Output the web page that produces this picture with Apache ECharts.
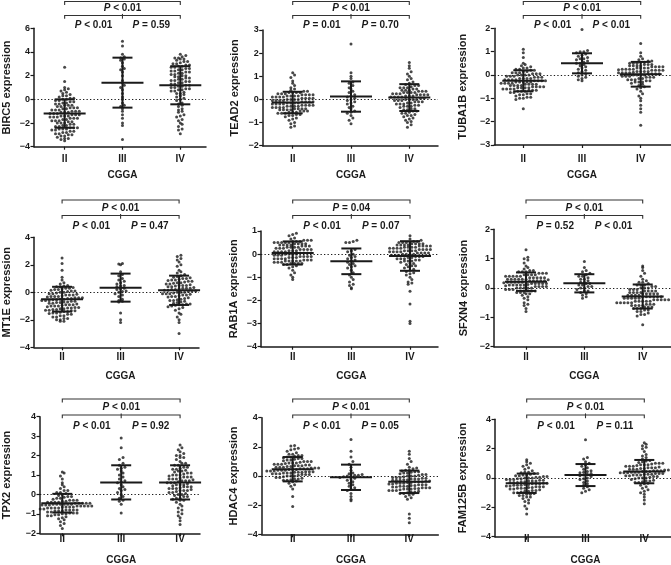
<!DOCTYPE html>
<html><head><meta charset="utf-8">
<script src="https://cdn.jsdelivr.net/npm/echarts@6/dist/echarts.min.js"></script>
<style>html,body{margin:0;padding:0;background:#fff}#c{width:671px;height:565px}</style>
</head><body><div id="c"></div>
<script>
// ---------------- DATA ----------------
const categories = ['II', 'III', 'IV'];
const cohort = 'CGGA';
const genes = ['BIRC5', 'TEAD2', 'TUBA1B', 'MT1E', 'RAB1A', 'SFXN4', 'TPX2', 'HDAC4', 'FAM125B'];

const yMins  = [-4, -2, -3, -4, -4, -2, -2, -4, -4];
const yMaxs  = [ 6,  3,  2,  4,  1,  2,  4,  4,  4];
const ySteps = [ 2,  1,  1,  2,  1,  1,  1,  2,  2];

const pTop   = ['< 0.01', '< 0.01', '< 0.01', '< 0.01', '= 0.04', '< 0.01', '< 0.01', '< 0.01', '< 0.01'];
const pLeft  = ['< 0.01', '= 0.01', '< 0.01', '< 0.01', '< 0.01', '= 0.52', '< 0.01', '< 0.01', '< 0.01'];
const pRight = ['= 0.59', '= 0.70', '< 0.01', '= 0.47', '= 0.07', '< 0.01', '= 0.92', '= 0.05', '= 0.11'];

// mean and SD per group (II, III, IV)
const BIRC5_mean = [-1.2, 1.41, 1.19],   BIRC5_sd = [1.2, 2.11, 1.61];
const TEAD2_mean = [-0.135, 0.125, 0.08], TEAD2_sd = [0.465, 0.655, 0.58];
const TUBA1B_mean = [-0.25, 0.5, 0.03],  TUBA1B_sd = [0.45, 0.43, 0.53];
const MT1E_mean = [-0.5, 0.34, 0.145],   MT1E_sd = [0.9, 1.02, 1.065];
const RAB1A_mean = [0.05, -0.31, -0.08], RAB1A_sd = [0.5, 0.555, 0.64];
const SFXN4_mean = [0.215, 0.16, -0.29], SFXN4_sd = [0.315, 0.31, 0.41];
const TPX2_mean = [-0.45, 0.62, 0.62],   TPX2_sd = [0.48, 0.88, 0.88];
const HDAC4_mean = [0.465, -0.09, -0.4], HDAC4_sd = [0.835, 0.87, 0.77];
const FAM125B_mean = [-0.36, 0.2, 0.435], FAM125B_sd = [0.66, 0.75, 0.795];

// individual sample values
const BIRC5_II = [-3.5,-3.4,-3.3,-3.3,-3.2,-3.1,-3.1,-3.0,-3.0,-2.9,-2.9,-2.8,-2.8,-2.7,-2.7,-2.6,-2.6,-2.5,-2.5,-2.5,-2.4,-2.4,-2.4,-2.3,-2.3,-2.2,-2.2,-2.1,-2.1,-2.0,-2.0,-2.0,-1.9,-1.9,-1.8,-1.8,-1.8,-1.7,-1.7,-1.6,-1.6,-1.6,-1.5,-1.5,-1.5,-1.4,-1.4,-1.4,-1.3,-1.3,-1.3,-1.2,-1.2,-1.2,-1.1,-1.1,-1.1,-1.0,-1.0,-1.0,-0.9,-0.9,-0.9,-0.8,-0.8,-0.7,-0.7,-0.7,-0.6,-0.6,-0.5,-0.5,-0.5,-0.4,-0.4,-0.3,-0.3,-0.2,-0.2,-0.1,-0.1,0.0,0.0,0.1,0.1,0.2,0.3,0.3,0.4,0.5,0.6,0.7,0.8,0.9,1.0,1.5,2.7];
const BIRC5_III = [4.9,4.5,3.8,3.6,3.5,3.4,3.3,3.1,2.8,2.6,2.5,2.3,2.0,1.6,1.4,1.2,1.0,0.8,0.5,0.2,0.0,-0.3,-0.5,-0.6,-0.8,-1.0,-1.3,-1.6,-2.0,-2.2,-3.4];
const BIRC5_IV = [3.8,3.7,3.6,3.5,3.5,3.4,3.4,3.3,3.2,3.2,3.1,3.0,3.0,2.9,2.9,2.8,2.8,2.7,2.7,2.6,2.6,2.5,2.5,2.4,2.4,2.3,2.3,2.2,2.2,2.1,2.1,2.0,2.0,1.9,1.9,1.8,1.8,1.7,1.7,1.6,1.6,1.5,1.5,1.4,1.4,1.3,1.3,1.2,1.2,1.1,1.1,1.0,1.0,0.9,0.9,0.8,0.8,0.7,0.7,0.6,0.5,0.5,0.4,0.3,0.2,0.1,0.0,-0.1,-0.3,-0.4,-0.5,-0.6,-0.8,-0.9,-1.0,-1.1,-1.3,-1.4,-1.5,-1.7,-1.8,-2.0,-2.1,-2.3,-2.5,-2.6,-2.9];

const TEAD2_II = [1.15,1.05,0.95,0.8,0.7,0.6,0.5,0.45,0.4,0.35,0.35,0.3,0.3,0.3,0.3,0.25,0.25,0.25,0.2,0.2,0.2,0.2,0.15,0.15,0.15,0.15,0.1,0.1,0.1,0.1,0.05,0.05,0.05,0.05,0.0,0.0,0.0,0.0,-0.05,-0.05,-0.05,-0.05,-0.1,-0.1,-0.1,-0.1,-0.15,-0.15,-0.15,-0.15,-0.2,-0.2,-0.2,-0.2,-0.25,-0.25,-0.25,-0.25,-0.3,-0.3,-0.3,-0.3,-0.35,-0.35,-0.35,-0.35,-0.4,-0.4,-0.4,-0.4,-0.45,-0.45,-0.45,-0.45,-0.5,-0.5,-0.5,-0.55,-0.55,-0.55,-0.6,-0.6,-0.6,-0.65,-0.65,-0.7,-0.7,-0.75,-0.8,-0.85,-0.9,-1.0,-1.05,-1.15,-1.2];
const TEAD2_III = [2.4,1.15,1.0,0.9,0.75,0.7,0.6,0.5,0.45,0.35,0.3,0.2,0.15,0.1,0.05,0.0,-0.05,-0.1,-0.15,-0.2,-0.3,-0.35,-0.4,-0.5,-0.55,-0.6,-0.7,-0.8,-0.9,-1.05];
const TEAD2_IV = [1.6,1.45,1.35,1.2,1.1,1.0,0.9,0.85,0.75,0.7,0.65,0.6,0.6,0.55,0.5,0.5,0.5,0.45,0.45,0.4,0.4,0.4,0.35,0.35,0.35,0.3,0.3,0.3,0.3,0.25,0.25,0.25,0.2,0.2,0.2,0.2,0.15,0.15,0.15,0.1,0.1,0.1,0.1,0.05,0.05,0.0,0.0,0.0,0.0,-0.05,-0.05,-0.05,-0.1,-0.1,-0.1,-0.15,-0.15,-0.2,-0.2,-0.2,-0.25,-0.25,-0.3,-0.3,-0.3,-0.35,-0.4,-0.4,-0.45,-0.45,-0.5,-0.5,-0.55,-0.6,-0.6,-0.65,-0.7,-0.7,-0.75,-0.8,-0.85,-0.9,-0.95,-1.0,-1.1,-1.2];

const TUBA1B_II = [1.1,0.95,0.75,0.5,0.45,0.4,0.35,0.3,0.3,0.25,0.25,0.2,0.2,0.15,0.15,0.1,0.1,0.1,0.05,0.05,0.05,0.0,0.0,0.0,0.0,-0.05,-0.05,-0.05,-0.1,-0.1,-0.1,-0.15,-0.15,-0.15,-0.15,-0.2,-0.2,-0.2,-0.2,-0.25,-0.25,-0.25,-0.25,-0.3,-0.3,-0.3,-0.3,-0.3,-0.35,-0.35,-0.35,-0.35,-0.4,-0.4,-0.4,-0.4,-0.45,-0.45,-0.45,-0.45,-0.5,-0.5,-0.5,-0.5,-0.55,-0.55,-0.55,-0.55,-0.6,-0.6,-0.6,-0.6,-0.65,-0.65,-0.65,-0.7,-0.7,-0.7,-0.75,-0.75,-0.8,-0.8,-0.85,-0.85,-0.9,-0.95,-0.95,-1.0,-1.0,-1.05,-1.45];
const TUBA1B_III = [1.95,1.05,1.0,1.0,0.95,0.9,0.85,0.8,0.75,0.7,0.7,0.65,0.6,0.55,0.5,0.5,0.45,0.4,0.35,0.3,0.25,0.2,0.15,0.1,0.05,0.0,-0.05,-0.1,-0.15,-0.2,-0.25];
const TUBA1B_IV = [1.35,0.95,0.8,0.7,0.65,0.6,0.6,0.55,0.55,0.5,0.5,0.5,0.45,0.45,0.45,0.4,0.4,0.4,0.4,0.35,0.35,0.35,0.35,0.3,0.3,0.3,0.3,0.25,0.25,0.25,0.25,0.22,0.2,0.2,0.2,0.2,0.15,0.15,0.15,0.15,0.12,0.1,0.1,0.1,0.1,0.05,0.05,0.05,0.05,0.0,0.0,0.0,0.0,-0.05,-0.05,-0.05,-0.1,-0.1,-0.1,-0.15,-0.15,-0.2,-0.2,-0.2,-0.25,-0.25,-0.3,-0.3,-0.3,-0.35,-0.4,-0.45,-0.5,-0.55,-0.6,-0.7,-0.8,-0.9,-1.0,-1.1,-1.3,-1.45,-1.6,-2.15];

const MT1E_II = [2.5,2.1,1.6,1.1,0.9,0.7,0.6,0.5,0.45,0.4,0.4,0.35,0.3,0.3,0.25,0.2,0.2,0.15,0.1,0.1,0.05,0.0,0.0,-0.05,-0.1,-0.1,-0.15,-0.2,-0.2,-0.2,-0.25,-0.3,-0.3,-0.3,-0.35,-0.4,-0.4,-0.4,-0.45,-0.45,-0.5,-0.5,-0.55,-0.55,-0.6,-0.6,-0.6,-0.65,-0.65,-0.7,-0.7,-0.75,-0.75,-0.8,-0.8,-0.85,-0.9,-0.9,-0.9,-0.95,-1.0,-1.0,-1.0,-1.05,-1.1,-1.1,-1.15,-1.15,-1.2,-1.2,-1.25,-1.25,-1.3,-1.3,-1.35,-1.35,-1.4,-1.4,-1.45,-1.5,-1.5,-1.55,-1.6,-1.6,-1.7,-1.7,-1.8,-1.8,-1.9,-1.9,-2.0,-2.0,-2.1,-2.1];
const MT1E_III = [2.1,2.05,2.0,1.5,1.3,1.2,1.0,0.9,0.8,0.7,0.6,0.5,0.45,0.4,0.3,0.25,0.2,0.1,0.05,0.0,-0.1,-0.2,-0.3,-0.5,-0.6,-0.65,-0.7,-1.5,-2.0,-2.2];
const MT1E_IV = [2.7,2.6,2.45,2.35,2.2,2.0,1.9,1.6,1.5,1.4,1.3,1.2,1.15,1.1,1.05,1.0,1.0,0.95,0.9,0.9,0.85,0.8,0.8,0.75,0.7,0.7,0.65,0.6,0.6,0.55,0.5,0.5,0.5,0.45,0.4,0.4,0.35,0.3,0.3,0.3,0.25,0.2,0.2,0.15,0.15,0.1,0.1,0.05,0.0,0.0,0.0,-0.05,-0.1,-0.1,-0.1,-0.15,-0.2,-0.2,-0.25,-0.3,-0.3,-0.35,-0.4,-0.45,-0.5,-0.55,-0.6,-0.6,-0.65,-0.7,-0.75,-0.8,-0.85,-0.85,-0.9,-0.9,-0.95,-1.0,-1.05,-1.1,-1.2,-1.3,-1.5,-1.6,-1.8,-2.0,-2.2,-3.0];

const RAB1A_II = [0.9,0.85,0.8,0.7,0.65,0.6,0.6,0.6,0.55,0.55,0.55,0.5,0.5,0.5,0.5,0.5,0.45,0.45,0.45,0.45,0.4,0.4,0.4,0.4,0.35,0.35,0.35,0.3,0.3,0.3,0.3,0.25,0.25,0.25,0.2,0.2,0.2,0.2,0.15,0.15,0.15,0.1,0.1,0.1,0.1,0.05,0.05,0.05,0.05,0.0,0.0,0.0,0.0,-0.05,-0.05,-0.05,-0.1,-0.1,-0.1,-0.1,-0.15,-0.15,-0.15,-0.2,-0.2,-0.2,-0.2,-0.25,-0.25,-0.25,-0.3,-0.3,-0.3,-0.3,-0.3,-0.35,-0.35,-0.35,-0.4,-0.4,-0.4,-0.4,-0.45,-0.45,-0.5,-0.55,-0.6,-0.7,-0.8,-0.9,-1.0,-1.1];
const RAB1A_III = [0.6,0.55,0.5,0.5,0.2,0.15,0.1,0.0,-0.05,-0.1,-0.15,-0.2,-0.25,-0.3,-0.35,-0.4,-0.45,-0.5,-0.55,-0.6,-0.7,-0.8,-0.9,-1.0,-1.1,-1.2,-1.3,-1.35,-1.45,-1.5];
const RAB1A_IV = [0.8,0.65,0.6,0.55,0.55,0.5,0.5,0.5,0.5,0.45,0.45,0.45,0.45,0.4,0.4,0.4,0.4,0.35,0.35,0.35,0.35,0.3,0.3,0.3,0.3,0.25,0.25,0.25,0.25,0.2,0.2,0.2,0.2,0.15,0.15,0.15,0.15,0.1,0.1,0.1,0.1,0.05,0.05,0.05,0.05,0.0,0.0,0.0,0.0,-0.05,-0.05,-0.05,-0.1,-0.1,-0.1,-0.15,-0.15,-0.2,-0.2,-0.2,-0.25,-0.25,-0.3,-0.3,-0.3,-0.35,-0.4,-0.4,-0.45,-0.5,-0.5,-0.55,-0.6,-0.65,-0.7,-0.75,-0.8,-0.85,-0.9,-1.0,-1.1,-1.2,-1.25,-1.3,-1.6,-2.15,-2.9,-3.0];

const SFXN4_II = [1.3,1.05,1.0,0.95,0.85,0.75,0.7,0.65,0.6,0.6,0.55,0.55,0.55,0.5,0.5,0.5,0.45,0.45,0.45,0.45,0.4,0.4,0.4,0.4,0.4,0.35,0.35,0.35,0.35,0.35,0.3,0.3,0.3,0.3,0.3,0.3,0.28,0.25,0.25,0.25,0.25,0.25,0.22,0.2,0.2,0.2,0.2,0.2,0.18,0.15,0.15,0.15,0.15,0.15,0.12,0.1,0.1,0.1,0.1,0.1,0.08,0.05,0.05,0.05,0.05,0.0,0.0,0.0,0.0,0.0,-0.05,-0.05,-0.05,-0.1,-0.1,-0.1,-0.15,-0.15,-0.15,-0.2,-0.2,-0.25,-0.3,-0.35,-0.4,-0.5,-0.55,-0.6,-0.7,-0.8];
const SFXN4_III = [0.9,0.7,0.6,0.55,0.5,0.45,0.4,0.4,0.35,0.3,0.3,0.25,0.2,0.2,0.15,0.15,0.1,0.1,0.05,0.05,0.0,0.0,-0.05,-0.1,-0.1,-0.15,-0.2,-0.25,-0.3,-0.35];
const SFXN4_IV = [0.75,0.7,0.6,0.5,0.4,0.3,0.25,0.2,0.2,0.15,0.1,0.1,0.1,0.05,0.05,0.0,0.0,0.0,-0.05,-0.05,-0.05,-0.1,-0.1,-0.1,-0.1,-0.15,-0.15,-0.15,-0.15,-0.2,-0.2,-0.2,-0.2,-0.2,-0.25,-0.25,-0.25,-0.25,-0.3,-0.3,-0.3,-0.3,-0.3,-0.3,-0.35,-0.35,-0.35,-0.35,-0.35,-0.4,-0.4,-0.4,-0.4,-0.4,-0.45,-0.45,-0.45,-0.45,-0.45,-0.5,-0.5,-0.5,-0.5,-0.5,-0.55,-0.55,-0.55,-0.6,-0.6,-0.6,-0.6,-0.65,-0.65,-0.65,-0.7,-0.7,-0.7,-0.75,-0.75,-0.8,-0.8,-0.85,-0.9,-0.9,-0.95,-1.25];

const TPX2_II = [1.15,1.1,0.95,0.8,0.6,0.5,0.4,0.3,0.2,0.2,0.1,0.1,0.05,0.0,-0.05,-0.1,-0.1,-0.15,-0.2,-0.2,-0.25,-0.3,-0.3,-0.3,-0.35,-0.35,-0.4,-0.4,-0.4,-0.4,-0.45,-0.45,-0.45,-0.45,-0.45,-0.5,-0.5,-0.5,-0.5,-0.5,-0.5,-0.55,-0.55,-0.55,-0.55,-0.55,-0.6,-0.6,-0.6,-0.6,-0.6,-0.65,-0.65,-0.65,-0.65,-0.7,-0.7,-0.7,-0.7,-0.75,-0.75,-0.75,-0.75,-0.8,-0.8,-0.8,-0.8,-0.85,-0.85,-0.85,-0.9,-0.9,-0.95,-0.95,-0.95,-1.0,-1.0,-1.05,-1.05,-1.1,-1.1,-1.15,-1.2,-1.25,-1.3,-1.4,-1.5,-1.6,-1.75];
const TPX2_III = [2.9,2.4,1.9,1.8,1.6,1.5,1.4,1.35,1.3,1.2,1.1,1.0,0.9,0.8,0.7,0.65,0.6,0.5,0.4,0.3,0.25,0.2,0.1,0.0,-0.1,-0.2,-0.3,-0.35,-0.5,-0.95];
const TPX2_IV = [2.55,2.4,2.3,2.2,2.1,2.0,2.0,1.9,1.9,1.8,1.7,1.6,1.6,1.5,1.5,1.4,1.4,1.35,1.3,1.3,1.25,1.2,1.2,1.15,1.1,1.1,1.05,1.0,1.0,1.0,0.95,0.9,0.9,0.9,0.85,0.8,0.8,0.8,0.75,0.7,0.7,0.7,0.65,0.6,0.6,0.6,0.55,0.5,0.5,0.5,0.45,0.4,0.4,0.4,0.35,0.3,0.3,0.3,0.25,0.2,0.2,0.2,0.15,0.1,0.1,0.05,0.0,0.0,-0.05,-0.1,-0.1,-0.2,-0.2,-0.25,-0.3,-0.3,-0.4,-0.5,-0.6,-0.7,-0.8,-0.9,-1.0,-1.1,-1.2,-1.35,-1.55];

const HDAC4_II = [2.1,2.05,1.9,1.85,1.8,1.7,1.6,1.5,1.5,1.4,1.4,1.35,1.3,1.3,1.25,1.2,1.2,1.15,1.1,1.1,1.05,1.0,1.0,1.0,0.95,0.9,0.9,0.9,0.85,0.8,0.8,0.8,0.75,0.75,0.7,0.7,0.7,0.65,0.65,0.6,0.6,0.6,0.55,0.55,0.55,0.5,0.5,0.5,0.45,0.45,0.45,0.4,0.4,0.4,0.35,0.35,0.35,0.3,0.3,0.3,0.25,0.25,0.25,0.2,0.2,0.2,0.15,0.15,0.15,0.1,0.1,0.1,0.05,0.0,0.0,0.0,-0.05,-0.1,-0.1,-0.15,-0.2,-0.2,-0.25,-0.3,-0.3,-0.35,-0.4,-0.5,-0.6,-0.7,-0.9,-1.4,-2.1];
const HDAC4_III = [2.5,1.7,1.3,1.0,0.8,0.6,0.4,0.2,0.15,0.1,0.05,0.05,0.0,0.0,-0.05,-0.1,-0.15,-0.2,-0.3,-0.4,-0.5,-0.6,-0.7,-0.8,-0.9,-1.0,-1.2,-1.4,-1.6,-1.7];
const HDAC4_IV = [1.7,1.5,1.2,1.0,0.8,0.6,0.55,0.5,0.4,0.4,0.35,0.3,0.3,0.25,0.2,0.2,0.15,0.1,0.1,0.05,0.0,0.0,0.0,-0.05,-0.1,-0.1,-0.1,-0.15,-0.15,-0.2,-0.2,-0.2,-0.25,-0.25,-0.3,-0.3,-0.3,-0.35,-0.35,-0.4,-0.4,-0.4,-0.45,-0.45,-0.5,-0.5,-0.5,-0.55,-0.55,-0.6,-0.6,-0.6,-0.65,-0.65,-0.7,-0.7,-0.7,-0.75,-0.75,-0.8,-0.8,-0.8,-0.85,-0.85,-0.9,-0.9,-0.9,-0.95,-1.0,-1.0,-1.0,-1.05,-1.1,-1.1,-1.15,-1.2,-1.2,-1.25,-1.3,-1.4,-1.5,-1.6,-2.6,-2.9,-3.2];

const FAM125B_II = [1.25,1.1,1.0,0.9,0.8,0.7,0.6,0.5,0.4,0.4,0.35,0.3,0.3,0.25,0.2,0.2,0.15,0.15,0.1,0.1,0.05,0.05,0.0,0.0,0.0,-0.05,-0.05,-0.1,-0.1,-0.1,-0.15,-0.15,-0.2,-0.2,-0.2,-0.25,-0.25,-0.3,-0.3,-0.3,-0.35,-0.35,-0.4,-0.4,-0.4,-0.45,-0.45,-0.5,-0.5,-0.5,-0.55,-0.55,-0.6,-0.6,-0.6,-0.65,-0.65,-0.7,-0.7,-0.7,-0.75,-0.75,-0.8,-0.85,-0.85,-0.9,-0.9,-0.95,-1.0,-1.0,-1.05,-1.1,-1.1,-1.2,-1.2,-1.3,-1.3,-1.4,-1.5,-1.6,-1.7,-1.9,-2.1,-2.45];
const FAM125B_III = [2.6,1.4,1.3,1.1,1.0,0.9,0.8,0.7,0.6,0.5,0.45,0.4,0.35,0.3,0.25,0.2,0.15,0.1,0.0,-0.05,-0.1,-0.2,-0.3,-0.4,-0.5,-0.6,-0.7,-0.8,-0.9,-1.0];
const FAM125B_IV = [2.4,2.3,2.2,2.1,2.0,1.8,1.6,1.5,1.4,1.3,1.2,1.15,1.1,1.05,1.0,1.0,1.0,0.95,0.9,0.9,0.9,0.85,0.8,0.8,0.8,0.75,0.7,0.7,0.7,0.65,0.65,0.6,0.6,0.6,0.55,0.55,0.5,0.5,0.5,0.45,0.45,0.45,0.4,0.4,0.4,0.35,0.35,0.35,0.3,0.3,0.3,0.25,0.25,0.25,0.2,0.2,0.2,0.15,0.15,0.1,0.1,0.05,0.0,0.0,0.0,-0.05,-0.1,-0.15,-0.2,-0.2,-0.25,-0.3,-0.3,-0.35,-0.4,-0.5,-0.6,-0.7,-0.8,-0.9,-1.0,-1.1,-1.3,-1.5,-1.75];

const groupValues = [
  [BIRC5_II, BIRC5_III, BIRC5_IV],
  [TEAD2_II, TEAD2_III, TEAD2_IV],
  [TUBA1B_II, TUBA1B_III, TUBA1B_IV],
  [MT1E_II, MT1E_III, MT1E_IV],
  [RAB1A_II, RAB1A_III, RAB1A_IV],
  [SFXN4_II, SFXN4_III, SFXN4_IV],
  [TPX2_II, TPX2_III, TPX2_IV],
  [HDAC4_II, HDAC4_III, HDAC4_IV],
  [FAM125B_II, FAM125B_III, FAM125B_IV]
];
const groupMeans = [BIRC5_mean, TEAD2_mean, TUBA1B_mean, MT1E_mean, RAB1A_mean, SFXN4_mean, TPX2_mean, HDAC4_mean, FAM125B_mean];
const groupSDs = [BIRC5_sd, TEAD2_sd, TUBA1B_sd, MT1E_sd, RAB1A_sd, SFXN4_sd, TPX2_sd, HDAC4_sd, FAM125B_sd];

// ---------------- LAYOUT (pixels) ----------------
const layout = [
  {L: 32,    R: 206,   T: 28.3,  B: 146.7, c0: 63,    c2: 180,   gap: 22,   row: 0},
  {L: 262.7, R: 438,   T: 30,    B: 145.7, c0: 292.7, c2: 409.3, gap: 22,   row: 0},
  {L: 494.3, R: 671,   T: 28.3,  B: 145,   c0: 523.3, c2: 640.7, gap: 26,   row: 0},
  {L: 33.3,  R: 199,   T: 237.3, B: 347.3, c0: 61.5,  c2: 179,   gap: 22,   row: 1},
  {L: 261,   R: 438,   T: 231,   B: 346.7, c0: 292.7, c2: 410,   gap: 22,   row: 1},
  {L: 494,   R: 671,   T: 229.3, B: 346.7, c0: 526,   c2: 642.7, gap: 25,   row: 1},
  {L: 39.3,  R: 200,   T: 416.7, B: 533.3, c0: 61.7,  c2: 180,   gap: 28,   row: 2},
  {L: 261.7, R: 438.3, T: 417.7, B: 534.3, c0: 292.7, c2: 409.3, gap: 22.5, row: 2},
  {L: 495,   R: 671,   T: 419.3, B: 536.7, c0: 526.7, c2: 644.3, gap: 27,   row: 2}
];
const rows = [
  {b1: 1.5, t1: 8,     b2: 15.5,  t2: 25.5,  cat: 159.5, name: 175},
  {b1: 200, t1: 208.5, b2: 215.5, t2: 226.5, cat: 358.3, name: 376},
  {b1: 399, t1: 407.5, b2: 415,   t2: 426.5, cat: 540,   name: 560.5}
];
const FONT = '"Liberation Sans", Arial, Helvetica, sans-serif';
const INK = '#1a1a1a';
const DOT = 3.0, SPACE = 3.7, BIN = 3.3;

function swarm(vals, g, unitX, pxPerY) {
  const sorted = vals.slice().sort((a, b) => a - b);
  const bins = new Map();
  sorted.forEach(v => {
    const k = Math.round(v * pxPerY / BIN);
    if (!bins.has(k)) bins.set(k, []);
    bins.get(k).push(v);
  });
  const out = [];
  bins.forEach(arr => {
    const n = arr.length;
    arr.forEach((v, j) => out.push([g + (j - (n - 1) / 2) * SPACE / unitX, v]));
  });
  return out;
}

const grids = [], xAxes = [], yAxes = [], series = [];
genes.forEach((gene, i) => {
  const lay = layout[i], rw = rows[lay.row];
  const u = (lay.c2 - lay.c0) / 2;
  const xMin = (lay.L - lay.c0) / u, xMax = 2 + (lay.R - lay.c2) / u;
  const pxPerY = (lay.B - lay.T) / (yMaxs[i] - yMins[i]);
  grids.push({left: lay.L, top: lay.T, width: lay.R - lay.L, height: lay.B - lay.T, containLabel: false});
  xAxes.push({
    type: 'value', gridIndex: i, min: xMin, max: xMax,
    axisLine: {onZero: false, lineStyle: {color: INK, width: 1.5}},
    axisTick: {customValues: [0, 1, 2], length: 3, lineStyle: {color: INK, width: 1.2}},
    axisLabel: {customValues: [0, 1, 2], formatter: v => categories[Math.round(v)],
      margin: rw.cat - lay.B - 5.6, fontSize: 10, fontWeight: 'bold', color: INK, fontFamily: FONT},
    splitLine: {show: false}
  });
  yAxes.push({
    type: 'value', gridIndex: i, min: yMins[i], max: yMaxs[i], interval: ySteps[i],
    name: gene + ' expression', nameLocation: 'middle', nameGap: lay.gap,
    nameTextStyle: {fontSize: 11, fontWeight: 'bold', color: INK, fontFamily: FONT},
    axisLine: {show: true, onZero: false, lineStyle: {color: INK, width: 1.5}},
    axisTick: {show: true, length: 3.5, lineStyle: {color: INK, width: 1.2}},
    axisLabel: {formatter: v => String(v).replace('-', '\u2212'), fontSize: 9, fontWeight: 'bold',
      color: INK, fontFamily: FONT, margin: 4},
    splitLine: {show: false}
  });
  const pts = [];
  groupValues[i].forEach((vals, g) => swarm(vals, g, u, pxPerY).forEach(p => pts.push(p)));
  series.push({
    type: 'scatter', xAxisIndex: i, yAxisIndex: i, data: pts, symbol: 'circle', symbolSize: DOT,
    itemStyle: {color: INK}, silent: true, animation: false,
    markLine: {silent: true, symbol: ['none', 'none'], label: {show: false},
      lineStyle: {type: [1.3, 2.2], color: INK, width: 1.1}, data: [{yAxis: 0}], animation: false}
  });
  // mean +/- SD
  series.push({
    type: 'custom', xAxisIndex: i, yAxisIndex: i, silent: true, animation: false, clip: false, z: 5,
    data: groupMeans[i].map((m, g) => [g, m, groupSDs[i][g]]),
    encode: {x: 0, y: 1},
    renderItem: (params, api) => {
      const g = api.value(0), m = api.value(1), s = api.value(2);
      const c = api.coord([g, m]), hi = api.coord([g, m + s]), lo = api.coord([g, m - s]);
      const st = {stroke: INK, lineWidth: 2, fill: null};
      return {type: 'group', children: [
        {type: 'line', shape: {x1: c[0] - 21, y1: c[1], x2: c[0] + 21, y2: c[1]}, style: st},
        {type: 'line', shape: {x1: c[0], y1: hi[1], x2: c[0], y2: lo[1]}, style: st},
        {type: 'line', shape: {x1: c[0] - 10, y1: hi[1], x2: c[0] + 10, y2: hi[1]}, style: st},
        {type: 'line', shape: {x1: c[0] - 10, y1: lo[1], x2: c[0] + 10, y2: lo[1]}, style: st}
      ]};
    }
  });
  // significance brackets + axis title
  series.push({
    type: 'custom', xAxisIndex: i, yAxisIndex: i, silent: true, animation: false, clip: false, z: 6,
    data: [[1, 0]], encode: {x: 0, y: 1},
    renderItem: (params, api) => {
      const x0 = api.coord([0, 0])[0], x1 = api.coord([1, 0])[0], x2 = api.coord([2, 0])[0];
      const ls = {stroke: '#333', lineWidth: 1.1, fill: null};
      const tx = (x, y, t, size) => ({type: 'text', x: x, y: y, style: {
        text: t, fill: INK, fontSize: size, fontWeight: 'bold', fontFamily: FONT,
        align: 'center', verticalAlign: 'middle',
        rich: {i: {fontStyle: 'italic', fontWeight: 'bold', fontSize: size, fontFamily: FONT, fill: INK}}}});
      return {type: 'group', children: [
        {type: 'polyline', shape: {points: [[x0, rw.b1 + 3.4], [x0, rw.b1], [x2, rw.b1], [x2, rw.b1 + 3.4]]}, style: ls},
        {type: 'polyline', shape: {points: [[x0, rw.b2 + 3.2], [x0, rw.b2], [x2, rw.b2], [x2, rw.b2 + 3.2]]}, style: ls},
        {type: 'line', shape: {x1: x1, y1: rw.b2 - 1.6, x2: x1, y2: rw.b2 + 3.2}, style: ls},
        tx(x1, rw.t1, '{i|P} ' + pTop[i], 10),
        tx((x0 + x1) / 2, rw.t2, '{i|P} ' + pLeft[i], 10),
        tx((x1 + x2) / 2, rw.t2, '{i|P} ' + pRight[i], 10),
        tx(x1, rw.name, cohort, 10)
      ]};
    }
  });
});

const chart = echarts.init(document.getElementById('c'), null, {renderer: 'canvas'});
chart.setOption({
  animation: false, backgroundColor: '#fff',
  grid: grids, xAxis: xAxes, yAxis: yAxes, series: series
});
</script></body></html>
